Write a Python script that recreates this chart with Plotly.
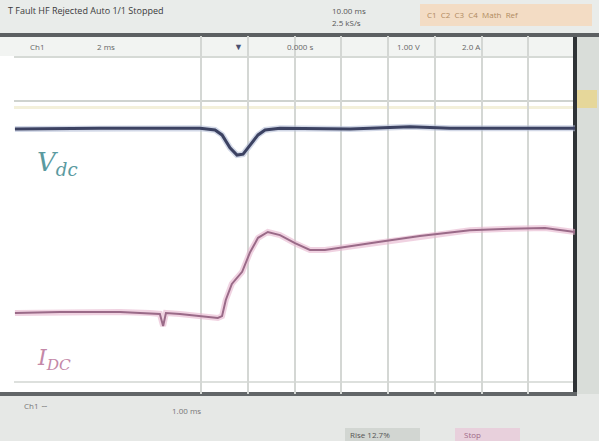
import plotly.graph_objects as go

# ---- data (time in divisions, level in divisions) ----
vdc_t = [0.02, 1.84, 3.98, 4.30, 4.45, 4.62, 4.77, 4.90, 5.05, 5.22, 5.37, 5.69, 7.19, 8.47, 9.33, 12.0]
vdc_v = [5.92, 5.94, 5.94, 5.90, 5.79, 5.50, 5.34, 5.36, 5.56, 5.79, 5.90, 5.94, 5.92, 5.97, 5.94, 5.94]

idc_t = [0.02, 0.98, 2.27, 2.91, 3.12, 3.19, 3.25, 3.55, 3.98, 4.36, 4.45, 4.53, 4.66, 4.88,
         5.05, 5.22, 5.43, 5.69, 6.01, 6.33, 6.65, 7.08, 7.83, 8.68, 9.75, 10.61, 11.36, 12.0]
idc_v = [1.81, 1.83, 1.83, 1.81, 1.79, 1.52, 1.81, 1.79, 1.74, 1.70, 1.74, 2.10, 2.46, 2.73,
         3.17, 3.49, 3.62, 3.55, 3.37, 3.22, 3.22, 3.28, 3.40, 3.53, 3.66, 3.69, 3.71, 3.62]

grid_x = [4, 5, 6, 7, 8, 9, 10, 11]

W, H = 599, 441
L, R, T, B = 14, 24, 36, 47
PW, PH = W - L - R, H - T - B


def px(x):
    return (x - L) / PW


def py(y):
    return (H - B - y) / PH


fig = go.Figure()
fig.add_trace(go.Scatter(x=idc_t, y=idc_v, mode="lines",
                         line=dict(color="rgba(230,180,205,0.6)", width=6), hoverinfo="skip"))
fig.add_trace(go.Scatter(x=idc_t, y=idc_v, mode="lines",
                         line=dict(color="#9a6a88", width=2)))
fig.add_trace(go.Scatter(x=vdc_t, y=vdc_v, mode="lines",
                         line=dict(color="rgba(180,190,215,0.6)", width=6), hoverinfo="skip"))
fig.add_trace(go.Scatter(x=vdc_t, y=vdc_v, mode="lines",
                         line=dict(color="#3c4262", width=3)))

shapes = []


def rect(x0, y0, x1, y1, color):
    shapes.append(dict(type="rect", xref="paper", yref="paper", x0=px(x0), x1=px(x1),
                       y0=py(y1), y1=py(y0), fillcolor=color, line=dict(width=0), layer="below"))


# header / footer / side strips
rect(0, 0, W, 35, "#e9ecea")
rect(0, 37, 575, 56, "#f2f4f2")
rect(0, 33, W, 37, "#5c6062")
rect(14, 56, 575, 58, "#d6dad6")
rect(14, 100, 575, 102, "#cfd3cf")
rect(14, 106, 575, 109, "#f3f0da")
rect(14, 381, 575, 383, "#dde0dd")
rect(576, 37, W, 394, "#d9ddd9")
rect(577, 90, 597, 108, "#e6d79a")
rect(577, 395, 597, 420, "#dcc8d8")
rect(573, 37, 577, 396, "#2f3336")
rect(0, 394, W, H, "#e6e8e6")
rect(0, 392, 577, 396, "#626668")
rect(345, 428, 420, 441, "#d2d6d2")
rect(455, 428, 520, 441, "#e8d0dc")
rect(420, 4, 592, 26, "#f3dcc4")

ann = []


def txt(x, y, s, size=9, color="#555", anchor="left"):
    ann.append(dict(x=px(x), y=py(y), xref="paper", yref="paper", text=s, showarrow=False,
                    xanchor=anchor, yanchor="middle", font=dict(size=size, color=color)))


txt(6, 10, "T Fault HF Rejected Auto 1/1 Stopped", 9, "#3a3a3a")
txt(330, 10, "10.00 ms", 8, "#555")
txt(330, 23, "2.5 kS/s", 8, "#555")
txt(425, 15, "C1  C2  C3  C4  Math  Ref", 8, "#b08a60")
txt(28, 46, "Ch1", 8, "#666")
txt(95, 46, "2 ms", 8, "#666")
txt(232, 46, "▼", 9, "#4a4f70")
txt(285, 46, "0.000 s", 8, "#666")
txt(395, 46, "1.00 V", 8, "#666")
txt(460, 46, "2.0 A", 8, "#666")
txt(22, 405, "Ch1 ∼", 8, "#777")
txt(170, 410, "1.00 ms", 8, "#777")
txt(348, 434, "Rise 12.7%", 8, "#555")
txt(462, 434, "Stop", 8, "#a06a88")

fig.add_annotation(x=0.92, y=5.15, text="<i>V<sub>dc</sub></i>", showarrow=False,
                   font=dict(family="DejaVu Serif", size=26, color="#5a9aa0"))
fig.add_annotation(x=0.85, y=0.78, text="<i>I<sub>DC</sub></i>", showarrow=False,
                   font=dict(family="DejaVu Serif", size=22, color="#c488a8"))
fig.update_layout(annotations=fig.layout.annotations + tuple(ann))

fig.update_layout(
    width=W, height=H, margin=dict(l=L, r=R, t=T, b=B),
    paper_bgcolor="#ffffff", plot_bgcolor="rgba(0,0,0,0)",
    showlegend=False, shapes=shapes,
    xaxis=dict(range=[0, 12], tickvals=grid_x, showticklabels=False, showgrid=True,
               gridcolor="#d4d7d4", gridwidth=2, zeroline=False, showline=False, ticks=""),
    yaxis=dict(range=[0, 8], showticklabels=False, showgrid=False, zeroline=False,
               showline=False, ticks=""),
)

fig.write_html("out.html", config={"displayModeBar": False},
               post_script="document.body.style.margin='0';")
